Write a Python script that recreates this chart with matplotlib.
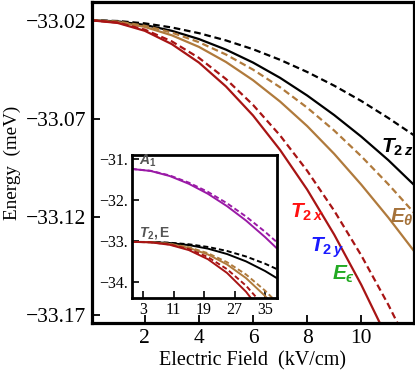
import matplotlib
matplotlib.use("Agg")
import matplotlib.pyplot as plt

plt.rcParams['font.family'] = ['Liberation Serif', 'DejaVu Serif']
plt.rcParams['mathtext.fontset'] = 'custom'
plt.rcParams['mathtext.rm'] = 'Liberation Sans:bold'
plt.rcParams['mathtext.it'] = 'Liberation Sans:italic:bold'
plt.rcParams['mathtext.bf'] = 'Liberation Sans:bold'
plt.rcParams['axes.unicode_minus'] = True

# ---------------- main panel data (kV/cm, meV) ----------------
field = [0, 1, 2, 3, 4, 5, 6, 7, 8, 9, 10, 11, 12]
t2z_dashed = [-33.0198, -33.0202, -33.0214, -33.0235, -33.0264, -33.0301, -33.0346,
              -33.0400, -33.0462, -33.0532, -33.0610, -33.0697, -33.0790]
t2z_solid = [-33.0198, -33.0204, -33.0222, -33.0252, -33.0294, -33.0348, -33.0414,
             -33.0492, -33.0582, -33.0682, -33.0792, -33.0912, -33.1045]
etheta_dashed = [-33.0198, -33.0205, -33.0226, -33.0261, -33.0310, -33.0373, -33.0450,
                 -33.0540, -33.0644, -33.0761, -33.0892, -33.1035, -33.1188]
etheta_solid = [-33.0198, -33.0207, -33.0232, -33.0275, -33.0334, -33.0411, -33.0504,
                -33.0613, -33.0738, -33.0880, -33.1037, -33.1205, -33.1385]
t2x_dashed = [-33.0198, -33.0210, -33.0246, -33.0306, -33.0390, -33.0498, -33.0630,
              -33.0786, -33.0966, -33.1170, -33.1398, -33.1650, -33.1926]
t2x_solid = [-33.0198, -33.0212, -33.0252, -33.0320, -33.0414, -33.0536, -33.0684,
             -33.0860, -33.1062, -33.1292, -33.1548, -33.1832, -33.2142]

# ---------------- inset data ----------------
field_in = [0, 5, 10, 15, 20, 25, 30, 35, 38]
a1_solid = [-31.24, -31.29, -31.414, -31.603, -31.847, -32.148, -32.50, -32.904, -33.17]
a1_dashed = [-31.24, -31.286, -31.40, -31.575, -31.80, -32.077, -32.402, -32.774, -33.02]
in_t2z_dashed = [-33.02, -33.023, -33.041, -33.079, -33.144, -33.242, -33.377, -33.553, -33.68]
in_t2z_solid = [-33.02, -33.025, -33.048, -33.099, -33.185, -33.316, -33.496, -33.731, -33.90]
in_eth_dashed = [-33.02, -33.028, -33.067, -33.152, -33.297, -33.515, -33.816, -34.21, -34.49]
in_eth_solid = [-33.02, -33.028, -33.072, -33.166, -33.327, -33.57, -33.904, -34.34, -34.65]
in_t2x_dashed = [-33.02, -33.030, -33.083, -33.197, -33.391, -33.685, -34.089, -34.617, -34.997]
in_t2x_solid = [-33.02, -33.032, -33.092, -33.221, -33.443, -33.777, -34.237, -34.838, -35.27]

main_yticks = [-33.02, -33.07, -33.12, -33.17]
main_yticklabels = ['\u221233.02', '\u221233.07', '\u221233.12', '\u221233.17']
main_xticks = [2, 4, 6, 8, 10]
in_yticks = [-31, -32, -33, -34]
in_yticklabels = ['\u221231.', '\u221232.', '\u221233.', '\u221234.']
in_xticks = [3, 11, 19, 27, 35]

RED = '#a81414'
BROWN = '#b07a3c'
PURPLE = '#9a1aa6'

fig = plt.figure(figsize=(4.15, 3.76), dpi=100)
ax = fig.add_axes([92 / 415, 1 - 323 / 376, (413.5 - 92) / 415, 321 / 376])

lw = 1.6
dash = (3.0, 1.7)
ax.plot(field, t2z_dashed, color='black', lw=lw, dashes=dash)
ax.plot(field, t2z_solid, color='black', lw=lw)
ax.plot(field, etheta_dashed, color=BROWN, lw=lw, dashes=dash)
ax.plot(field, etheta_solid, color=BROWN, lw=lw)
ax.plot(field, t2x_dashed, color=RED, lw=lw, dashes=dash)
ax.plot(field, t2x_solid, color=RED, lw=lw)

ax.set_xlim(0.05, 11.93)
ax.set_ylim(-33.1743, -33.0105)
ax.set_yticks(main_yticks)
ax.set_yticklabels(main_yticklabels)
ax.set_xticks(main_xticks)
ax.tick_params(direction='in', length=6, width=1.3, labelsize=15.5, pad=4,
               top=False, right=False)
for s in ax.spines.values():
    s.set_linewidth(2.3)
ax.set_xlabel('Electric Field  (kV/cm)', fontsize=14.5)
ax.set_ylabel('Energy  (meV)', fontsize=13.8)
ax.xaxis.set_label_coords(0.5, -0.088)
ax.yaxis.set_label_coords(-0.222, 0.5)

fs_lab = 15
ax.text(11.32, -33.0847, r'$T_{2\,z}$', color='black', fontsize=fs_lab, ha='center', va='center')
ax.text(11.5, -33.1204, r'$E_\theta$', color='#a5723a', fontsize=fs_lab, ha='center', va='center')
ax.text(7.99, -33.1179, r'$T_{2\,x}$', color='#ff1010', fontsize=fs_lab, ha='center', va='center')
ax.text(8.73, -33.1357, r'$T_{2\,y}$', color='#1a1aff', fontsize=fs_lab, ha='center', va='center')
ax.text(9.36, -33.1495, r'$E_{ϵ}$', color='#22aa22', fontsize=fs_lab, ha='center', va='center')

# ---------------- inset ----------------
axi = fig.add_axes([131.7 / 415, 1 - 298 / 376, 144.8 / 415, 143 / 376])
lwi = 1.4
dashi = (2.6, 1.5)
axi.plot(field_in, a1_dashed, color=PURPLE, lw=lwi, dashes=dashi)
axi.plot(field_in, a1_solid, color=PURPLE, lw=lwi)
axi.plot(field_in, in_t2z_dashed, color='black', lw=lwi, dashes=dashi)
axi.plot(field_in, in_t2z_solid, color='black', lw=lwi)
axi.plot(field_in, in_eth_dashed, color=BROWN, lw=lwi, dashes=dashi)
axi.plot(field_in, in_eth_solid, color=BROWN, lw=lwi)
axi.plot(field_in, in_t2x_dashed, color=RED, lw=lwi, dashes=dashi)
axi.plot(field_in, in_t2x_solid, color=RED, lw=lwi)
axi.set_xlim(0, 38)
axi.set_ylim(-34.39, -30.90)
axi.set_yticks(in_yticks)
axi.set_yticklabels(in_yticklabels)
axi.set_xticks(in_xticks)
axi.tick_params(direction='in', length=5, width=1.2, labelsize=11.5, pad=3,
                top=False, right=False)
for s in axi.spines.values():
    s.set_linewidth(2.0)
axi.text(2.0, -31.05, r'$A_1$', color='#555555', fontsize=10, ha='left', va='center')
axi.text(2.0, -32.80, r'$T_2$' + '$\\mathrm{, E}$', color='#555555', fontsize=10,
         ha='left', va='center')

fig.savefig('out.png', dpi=100)
